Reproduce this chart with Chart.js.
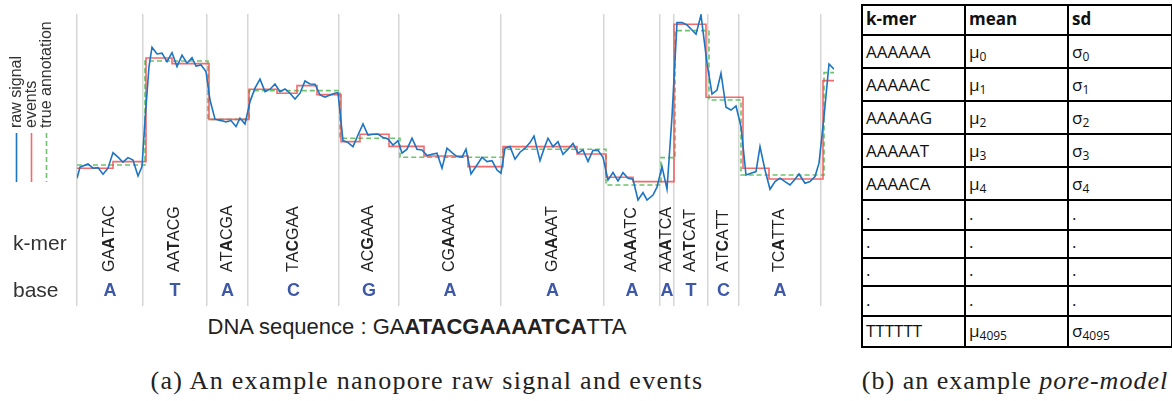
<!DOCTYPE html>
<html>
<head>
<meta charset="utf-8">
<script src="https://cdn.jsdelivr.net/npm/chart.js@4.4.0/dist/chart.umd.min.js"></script>
<style>
  body { margin: 0; background: #fff; width: 1172px; height: 401px; position: relative; overflow: hidden; font-family: "Liberation Sans", Arial, sans-serif; }
  #painel { position: absolute; left: 0; top: 0; width: 850px; height: 310px; }
  .rotulo { position: absolute; left: 13px; font-size: 21px; line-height: 24px; color: #333; }
  #sequencia { position: absolute; left: 0; width: 834px; top: 315px; text-align: center; font-size: 22px; line-height: 24px; color: #222; }
  .legenda { position: absolute; top: 366px; font-family: "Liberation Serif", serif; font-size: 26px; line-height: 30px; color: #222; white-space: nowrap; text-align: center; }
  #modelo { position: absolute; left: 861px; top: 4px; width: 310px; border-collapse: collapse; table-layout: fixed; font-family: "Open Sans", sans-serif; font-size: 17px; color: #111; }
  #modelo td { border: 2.5px solid #000; padding: 0 0 4px 3px; vertical-align: bottom; line-height: 22px; }
  #modelo th { border: 2.5px solid #000; padding: 0 0 4px 3px; vertical-align: bottom; text-align: left; line-height: 22px; font-weight: bold; }
  #modelo sub { font-size: 12px; vertical-align: -3px; line-height: 0; }
</style>
</head>
<body>
<div id="painel"><canvas id="grafico-sinal" width="850" height="310"></canvas></div>
<div class="rotulo" style="top:231px">k-mer</div>
<div class="rotulo" style="top:278px">base</div>
<div id="sequencia">DNA sequence : GA<b>ATACGAAAATCA</b>TTA</div>
<div class="legenda" style="left:0; width:854px; letter-spacing:1.3px">(a) An example nanopore raw signal and events</div>
<div class="legenda" style="left:858px; width:314px; letter-spacing:1px">(b) an example <i>pore-model</i></div>
<table id="modelo"></table>

<script>
// Sinal bruto (tempo em amostras, corrente em pA)
const tempoSinal = [0,3,11,16,21,26,31,36,41,46,51,56,61,65,
  68,72,75,80,85,90,95,100,105,110,115,119,124,129,
  133,138,144,149,154,159,163,168,
  173,178,183,188,193,198,203,208,213,218,223,228,233,238,243,248,253,258,261,
  266,271,276,281,286,291,296,301,306,311,316,321,
  325,330,335,340,345,350,355,360,365,370,375,380,385,389,394,400,405,410,415,420,424,
  428,433,438,443,448,453,457,463,468,471,476,481,486,491,496,501,506,511,516,521,526,
  531,536,541,546,551,556,561,566,570,576,580,585,590,
  595,600,605,610,615,619,624,630,635,640,644,649,654,659,664,
  669,674,679,683,688,693,698,703,708,713,718,722,728,733,738,742,747,752,757];
const correnteSinal = [70.9,76.4,78,75.9,76.2,72.9,75.9,83.7,81.4,78.9,81.2,80,72,76.7,
  100,126.7,136.4,133,133.4,129.2,133.7,126.7,132.4,128.4,131.2,127,127.5,124.2,
  110,100.4,99.7,99,99.7,96.7,100.9,98,
  109.2,115.9,120.4,114.2,115.4,118,114.2,115.5,113.4,110.5,113.4,119.5,118,117.9,112.5,111.4,112.5,113.4,113.7,
  89.7,88.7,86.7,92.5,98,92.5,92.9,93,91.2,90.5,87.5,89.7,
  83.4,85.4,90.9,85.4,85,82.2,82.9,83.4,75.9,85.9,83.7,81.7,81.4,85.4,73,77.5,81.4,79.2,79.7,75,73.4,
  85.9,86.7,80.4,83.9,85.9,88.7,92,79.7,87,90.9,86.7,89.2,82.9,85.4,88.3,83.4,85,79.3,84.9,84.8,81.3,
  70,73.7,69.5,73.7,70.9,70.4,60,63.7,60,62.5,66.4,76.7,65.4,
  101.7,148.7,148.7,147.5,145,142.9,152.5,128.4,113,115,123.4,106.4,105,107,96.7,
  72.5,73.4,74.2,86.7,75,65.4,69.2,70.9,69.2,67.5,70.4,73,68.4,69.2,71.7,78.4,101.7,128,125.4];

// Eventos detectados (início e média)
const inicioEventos = [0,36,69,95,132,172,200,220,240,264,283,312,347,391,426,500,529,556,597,629,666,692,746];
const mediaEventos = [75.9,79.2,131,128.2,100.3,115.4,113.4,117.2,112.7,89.2,92.9,86.8,82,76.7,86.7,83,71.4,69.2,147.9,111.4,75.9,70.5,119.7];

// Anotação verdadeira
const inicioAnotacao = [0,68,131,172,263,323,426,529,584,598,632,664,747];
const nivelAnotacao = [77.5,129.5,100.3,114.7,90.9,81.4,85.4,67.5,81.2,144.7,110,72.5,123.7];

const fimSinal = 757;

// Fronteiras dos k-mers, k-mers e bases
const fronteiras = [0,66,130,171,262,322,424,527,583,597,631,662,744];
const kmers = ['GAATAC','AATACG','ATACGA','TACGAA','ACGAAA','CGAAAA','GAAAAT','AAAATC','AAATCA','AATCAT','ATCATT','TCATTA'];
const bases = ['A','T','A','C','G','A','A','A','A','T','C','A'];

// Tabela do pore-model
const poreKmers = ['AAAAAA','AAAAAC','AAAAAG','AAAAAT','AAAACA','.','.','.','.','TTTTTT'];
const poreIndices = ['0','1','2','3','4','','','','','4095'];
const alturasLinhas = [30, 33, 33, 33, 33, 33, 30, 28, 28, 30, 31];

let graficoSinal;

function degraus(inicios, niveis) {
  const pontos = inicios.map((t, i) => ({ x: t, y: niveis[i] }));
  pontos.push({ x: fimSinal, y: niveis[niveis.length - 1] });
  return pontos;
}

// Rótulos dos k-mers, bases e legenda girada
const pluginRotulos = {
  id: 'rotulos',
  afterDraw(chart) {
    const ctx = chart.ctx;
    const x = chart.scales.x;
    ctx.save();
    for (let i = 0; i < kmers.length; i++) {
      const cx = (x.getPixelForValue(fronteiras[i]) + x.getPixelForValue(fronteiras[i + 1])) / 2;
      ctx.save();
      ctx.translate(cx, 272);
      ctx.rotate(-Math.PI / 2);
      ctx.textBaseline = 'middle';
      ctx.textAlign = 'left';
      ctx.fillStyle = '#222';
      let pos = 0;
      for (let j = 0; j < kmers[i].length; j++) {
        ctx.font = (j === 2 ? 'bold ' : '') + '16px "Liberation Sans"';
        ctx.fillText(kmers[i][j], pos, 0);
        pos += ctx.measureText(kmers[i][j]).width;
      }
      ctx.restore();
      ctx.font = 'bold 18px "Liberation Sans"';
      ctx.fillStyle = '#3e58a8';
      ctx.textAlign = 'center';
      ctx.textBaseline = 'middle';
      ctx.fillText(bases[i], cx, 291);
    }
    chart.data.datasets.forEach((ds, i) => {
      const lx = 16.5 + 15 * i;
      ctx.beginPath();
      ctx.strokeStyle = ds.borderColor;
      ctx.lineWidth = 1.6;
      ctx.setLineDash(ds.borderDash || []);
      ctx.moveTo(lx, 133);
      ctx.lineTo(lx, 182);
      ctx.stroke();
      ctx.setLineDash([]);
      ctx.save();
      ctx.translate(lx, 128);
      ctx.rotate(-Math.PI / 2);
      ctx.font = '16px "Liberation Sans"';
      ctx.fillStyle = '#333';
      ctx.textAlign = 'left';
      ctx.textBaseline = 'middle';
      ctx.fillText(ds.label, 0, 0);
      ctx.restore();
    });
    ctx.restore();
  }
};

function montarTabela() {
  const tabela = document.getElementById('modelo');
  let html = '<colgroup><col style="width:103px"><col style="width:103px"><col style="width:104px"></colgroup>';
  html += '<tr style="height:' + alturasLinhas[0] + 'px"><th>k-mer</th><th>mean</th><th>sd</th></tr>';
  poreKmers.forEach((k, i) => {
    const idx = poreIndices[i];
    const media = idx === '' ? '.' : 'μ<sub>' + idx + '</sub>';
    const desvio = idx === '' ? '.' : 'σ<sub>' + idx + '</sub>';
    html += '<tr style="height:' + alturasLinhas[i + 1] + 'px"><td>' + k + '</td><td>' + media + '</td><td>' + desvio + '</td></tr>';
  });
  tabela.innerHTML = html;
}

function desenharGrafico() {
  const ctx = document.getElementById('grafico-sinal').getContext('2d');
  graficoSinal = new Chart(ctx, {
    type: 'line',
    data: {
      datasets: [
        {
          label: 'raw signal',
          data: tempoSinal.map((t, i) => ({ x: t, y: correnteSinal[i] })),
          borderColor: '#1c74c3',
          borderWidth: 1.6,
          pointRadius: 0,
          tension: 0
        },
        {
          label: 'events',
          data: degraus(inicioEventos, mediaEventos),
          borderColor: 'rgba(240,80,80,0.85)',
          borderWidth: 1.6,
          pointRadius: 0,
          stepped: true
        },
        {
          label: 'true annotation',
          data: degraus(inicioAnotacao, nivelAnotacao),
          borderColor: '#6cc46c',
          borderWidth: 1.6,
          borderDash: [5, 3],
          pointRadius: 0,
          stepped: true
        }
      ]
    },
    options: {
      responsive: false,
      animation: false,
      layout: { padding: { left: 77, top: 14, right: 16, bottom: 4 } },
      plugins: { legend: { display: false }, tooltip: { enabled: false } },
      scales: {
        x: {
          type: 'linear',
          min: 0,
          max: fimSinal,
          ticks: { display: false },
          grid: { color: '#d6d6d6', lineWidth: 1.5, drawTicks: false },
          border: { display: false },
          afterBuildTicks: (eixo) => { eixo.ticks = fronteiras.map(v => ({ value: v })); }
        },
        y: { display: false, min: 7, max: 153 }
      }
    },
    plugins: [pluginRotulos]
  });
}

document.addEventListener('DOMContentLoaded', function () {
  montarTabela();
  desenharGrafico();
});
</script>
</body>
</html>
